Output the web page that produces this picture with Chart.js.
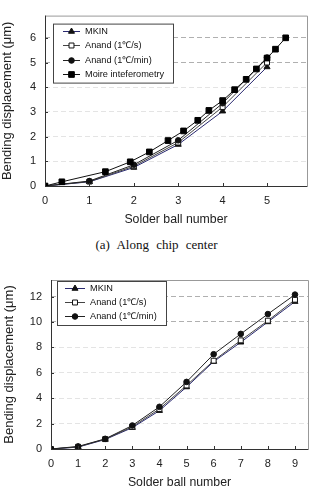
<!DOCTYPE html>
<html>
<head>
<meta charset="utf-8">
<script src="https://cdn.jsdelivr.net/npm/chart.js@4.4.0/dist/chart.umd.min.js"></script>
<style>
body{margin:0;background:#fff}
#wrap{position:relative;width:313px;height:501px}
canvas{position:absolute;left:0}
#c1{top:0}
#c2{top:255px}
#cap{position:absolute;top:237px;left:0;width:313px;text-align:center;font:13px "Liberation Serif","Times New Roman",serif;line-height:16px;word-spacing:4px;color:#111}
</style>
</head>
<body>
<div id="wrap">
<canvas id="c1" width="313" height="232"></canvas>
<div id="cap">(a) Along chip center</div>
<canvas id="c2" width="313" height="246"></canvas>
</div>
<script>
// (a) along chip center
const ballA = [0, 1, 2, 3, 4, 5];
const mkinA = [0, 0.17, 0.75, 1.68, 3.03, 4.82];
const anandFastA = [0, 0.18, 0.8, 1.76, 3.2, 5.0];
const anandSlowA = [0, 0.2, 0.86, 1.85, 3.35, 5.2];
const moireX = [0, 0.38, 1.36, 1.92, 2.35, 2.77, 3.12, 3.44, 3.69, 4.0, 4.27, 4.53, 4.76, 5.0, 5.19, 5.42];
const moireY = [0, 0.17, 0.58, 0.98, 1.38, 1.84, 2.23, 2.66, 3.06, 3.46, 3.9, 4.32, 4.74, 5.18, 5.54, 6.0];

// second chart
const ballB = [0, 1, 2, 3, 4, 5, 6, 7, 8, 9];
const mkinB = [0, 0.15, 0.75, 1.68, 3.02, 4.88, 6.88, 8.4, 10.0, 11.6];
const anandFastB = [0, 0.17, 0.78, 1.75, 3.15, 5.0, 6.95, 8.55, 10.1, 11.75];
const anandSlowB = [0, 0.2, 0.8, 1.85, 3.32, 5.28, 7.46, 9.06, 10.62, 12.15];

const seriesNames = ['MKIN', 'Anand (1\u2103/s)', 'Anand (1\u2103/min)', 'Moire inteferometry'];

const FONT = '"Liberation Sans", Arial, sans-serif';

const styles = [
  { line: '#2a2a70', shape: 'triangle', r: 3.5, fill: '#111', stroke: '#111' },
  { line: '#444', shape: 'rect', r: 3.5, fill: '#fff', stroke: '#111' },
  { line: '#222', shape: 'circle', r: 2.8, fill: '#111', stroke: '#111' },
  { line: '#111', shape: 'rect', r: 4, fill: '#000', stroke: '#000' }
];

const pts = (xs, ys) => xs.map((x, i) => ({ x: x, y: ys[i] }));

function ds(i, data) {
  const s = styles[i];
  return {
    label: seriesNames[i], data: data, borderColor: s.line, borderWidth: 1,
    pointStyle: s.shape, pointRadius: s.r, pointHoverRadius: s.r,
    pointBackgroundColor: s.fill, pointBorderColor: s.stroke, pointBorderWidth: 1,
    tension: 0, fill: false, order: 3 - i
  };
}

function mark(ctx, s, x, y) {
  ctx.beginPath();
  if (s.shape === 'triangle') {
    ctx.moveTo(x, y - s.r);
    ctx.lineTo(x + s.r * 0.866, y + s.r * 0.5);
    ctx.lineTo(x - s.r * 0.866, y + s.r * 0.5);
    ctx.closePath();
  } else if (s.shape === 'rect') {
    const h = s.r * Math.SQRT1_2;
    ctx.rect(x - h, y - h, 2 * h, 2 * h);
  } else {
    ctx.arc(x, y, s.r, 0, Math.PI * 2);
  }
  ctx.fillStyle = s.fill; ctx.fill();
  ctx.strokeStyle = s.stroke; ctx.lineWidth = 1; ctx.stroke();
}

// box, inward ticks and legend inside the plot
const frame = {
  id: 'frame',
  afterDatasetsDraw(chart, args, o) {
    const { ctx, chartArea: a, scales } = chart;
    ctx.save();
    ctx.lineWidth = 1;
    ctx.strokeStyle = '#999';
    ctx.beginPath();
    ctx.moveTo(a.left, a.top + 0.5); ctx.lineTo(a.right + 0.5, a.top + 0.5); ctx.lineTo(a.right + 0.5, a.bottom);
    ctx.stroke();
    ctx.strokeStyle = '#333';
    ctx.beginPath();
    ctx.moveTo(a.left + 0.5, a.top); ctx.lineTo(a.left + 0.5, a.bottom + 0.5); ctx.lineTo(a.right + 0.5, a.bottom + 0.5);
    scales.x.ticks.forEach(t => {
      const px = Math.round(scales.x.getPixelForValue(t.value)) + 0.5;
      ctx.moveTo(px, a.bottom); ctx.lineTo(px, a.bottom - 3);
    });
    scales.y.ticks.forEach(t => {
      const py = Math.round(scales.y.getPixelForValue(t.value)) + 0.5;
      ctx.moveTo(a.left, py); ctx.lineTo(a.left + 3, py);
    });
    ctx.stroke();

    // legend
    const L = o.legend;
    const bx = a.left + L.dx, by = a.top + L.dy;
    ctx.fillStyle = '#fff';
    ctx.fillRect(bx, by, L.w, L.h);
    ctx.strokeStyle = '#444';
    ctx.strokeRect(bx + 0.5, by + 0.5, L.w, L.h);
    ctx.font = '9.2px ' + FONT;
    ctx.textBaseline = 'middle';
    for (let i = 0; i < L.count; i++) {
      const y = Math.round(by + L.row0 + i * L.step) + 0.5;
      ctx.strokeStyle = styles[i].line;
      ctx.beginPath();
      ctx.moveTo(bx + L.l0, y); ctx.lineTo(bx + L.l1, y);
      ctx.stroke();
      mark(ctx, styles[i], bx + (L.l0 + L.l1) / 2, y);
      ctx.fillStyle = '#111';
      ctx.fillText(seriesNames[i], bx + L.tx, y);
    }
    ctx.restore();
  }
};

function makeChart(id, datasets, g) {
  return new Chart(document.getElementById(id), {
    type: 'line',
    data: { datasets: datasets },
    plugins: [frame],
    options: {
      responsive: false, animation: false,
      layout: { padding: { top: g.top, right: g.right, left: 0, bottom: 0 } },
      plugins: { legend: { display: false }, tooltip: { enabled: false }, frame: { legend: g.legend } },
      scales: {
        x: {
          type: 'linear', min: 0, max: g.xMax,
          afterFit: s => { s.height = g.xH; },
          grid: { display: false, drawTicks: false },
          border: { display: false },
          ticks: { stepSize: 1, includeBounds: false, padding: 8, color: '#222', font: { family: FONT, size: 11 } },
          title: { display: true, text: 'Solder ball number', color: '#222', font: { family: FONT, size: 12.3 }, padding: { top: 0, bottom: g.xTitlePad } }
        },
        y: {
          min: 0, max: g.yMax,
          afterFit: s => { s.width = g.yW; },
          grid: {
            drawTicks: false, lineWidth: 1,
            color: c => c.tick && c.tick.value >= g.darkFrom ? '#b0b0b0' : '#e4e4e4'
          },
          border: { display: false, dash: [5, 3] },
          ticks: { stepSize: g.yStep, includeBounds: false, padding: 9, color: '#222', font: { family: FONT, size: 11 } },
          title: { display: true, text: 'Bending displacement (\u03bcm)', color: '#222', font: { family: FONT, size: 13 }, padding: { top: g.yTitlePad, bottom: 0 } }
        }
      }
    }
  });
}

makeChart('c1', [
  ds(0, pts(ballA, mkinA)),
  ds(1, pts(ballA, anandFastA)),
  ds(2, pts(ballA, anandSlowA)),
  ds(3, pts(moireX, moireY))
], {
  top: 14, right: 6, xMax: 5.9, yMax: 6.9, yStep: 1, xH: 46, yW: 45,
  xTitlePad: 5, yTitlePad: 0, darkFrom: 5,
  legend: { dx: 8, dy: 8, w: 120, h: 59, count: 4, row0: 7.3, step: 14.3, l0: 10, l1: 27, tx: 32 }
});

makeChart('c2', [
  ds(0, pts(ballB, mkinB)),
  ds(1, pts(ballB, anandFastB)),
  ds(2, pts(ballB, anandSlowB))
], {
  top: 25, right: 5, xMax: 9.48, yMax: 13.3, yStep: 2, xH: 52, yW: 51,
  xTitlePad: 11, yTitlePad: 2, darkFrom: 10,
  legend: { dx: 6, dy: 1, w: 109, h: 44, count: 3, row0: 6.7, step: 14.2, l0: 8, l1: 28, tx: 33 }
});
</script>
</body>
</html>
